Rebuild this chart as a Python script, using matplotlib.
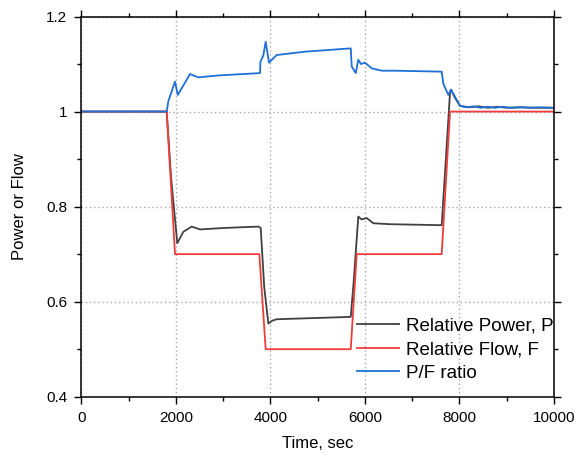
import matplotlib
matplotlib.use("Agg")
import matplotlib.pyplot as plt
from matplotlib.ticker import MultipleLocator, FuncFormatter

plt.rcParams['font.family'] = ['Liberation Sans', 'DejaVu Sans']

# relative flow F
t_flow = [0, 1806, 1982, 3766, 3900, 5700, 5826, 7624, 7800, 10000]
flow = [1.0, 1.0, 0.70, 0.70, 0.50, 0.50, 0.70, 0.70, 1.0, 1.0]

# relative power P
t_power = [0, 1806, 1900, 2030, 2158, 2335, 2510, 3004, 3745, 3795, 3870, 3957, 4040,
           4133, 5700, 5760, 5860, 5932, 6037, 6177, 6530, 7588, 7624, 7800, 7821,
           7900, 8012, 8200, 8400, 8600, 8800, 9000, 9300, 9600, 10000]
power = [1.0, 1.0, 0.86, 0.723, 0.747, 0.758, 0.752, 0.755, 0.758, 0.755, 0.63, 0.554, 0.560,
         0.563, 0.568, 0.64, 0.779, 0.773, 0.776, 0.765, 0.763, 0.761, 0.761, 1.040, 1.046,
         1.03, 1.012, 1.009, 1.011, 1.008, 1.010, 1.008, 1.009, 1.008, 1.008]

# P/F ratio
t_ratio = [0, 1806, 1841, 1982, 2040, 2300, 2475, 2900, 3780, 3790, 3850, 3900, 3970,
           4133, 4730, 5700, 5720, 5806, 5860, 5917, 6000, 6143, 6355, 6636, 7624,
           7660, 7765, 7821, 8012, 8150, 8300, 8450, 8600, 8750, 8900, 9100, 9300,
           9500, 9700, 10000]
ratio = [1.0, 1.0, 1.022, 1.063, 1.035, 1.079, 1.072, 1.076, 1.081, 1.105, 1.118, 1.147, 1.103,
         1.119, 1.126, 1.133, 1.095, 1.081, 1.109, 1.100, 1.103, 1.091, 1.086, 1.086, 1.084,
         1.058, 1.035, 1.046, 1.012, 1.009, 1.011, 1.008, 1.010, 1.008, 1.010, 1.008, 1.009,
         1.008, 1.009, 1.008]

fig = plt.figure(figsize=(5.78, 4.59), dpi=100)
ax = fig.add_axes([0.1407, 0.1357, 0.8178, 0.8283])

ax.plot(t_power, power, color='#404040', lw=1.3, label='Relative Power, P')
ax.plot(t_flow, flow, color='#ef3b3b', lw=1.3, label='Relative Flow, F')
ax.plot(t_ratio, ratio, color='#1f6fd8', lw=1.3, label='P/F ratio')

ax.set_xlim(0, 10000)
ax.set_ylim(0.4, 1.2)
ax.xaxis.set_major_locator(MultipleLocator(2000))
ax.xaxis.set_minor_locator(MultipleLocator(1000))
ax.yaxis.set_major_locator(MultipleLocator(0.2))
ax.yaxis.set_minor_locator(MultipleLocator(0.1))
ax.yaxis.set_major_formatter(FuncFormatter(lambda v, p: '%g' % round(v, 3)))

ax.tick_params(which='both', direction='out', top=True, right=True, labelsize=11, width=1, pad=5)
ax.tick_params(which='major', length=5)
ax.tick_params(which='minor', length=3)
for s in ax.spines.values():
    s.set_linewidth(1.1)

ax.grid(True, which='major', color='#a8a8a8', linestyle=(0, (1, 2)), lw=1)

ax.set_xlabel('Time, sec', fontsize=12, labelpad=8)
ax.set_ylabel('Power or Flow', fontsize=12, labelpad=14)

ax.legend(loc='lower right', bbox_to_anchor=(1.014, 0.019), frameon=False, fontsize=13.5,
          handlelength=2.25, handletextpad=0.35, labelspacing=0.36, borderaxespad=0)

plt.savefig('out.png', dpi=100)
plt.close()
